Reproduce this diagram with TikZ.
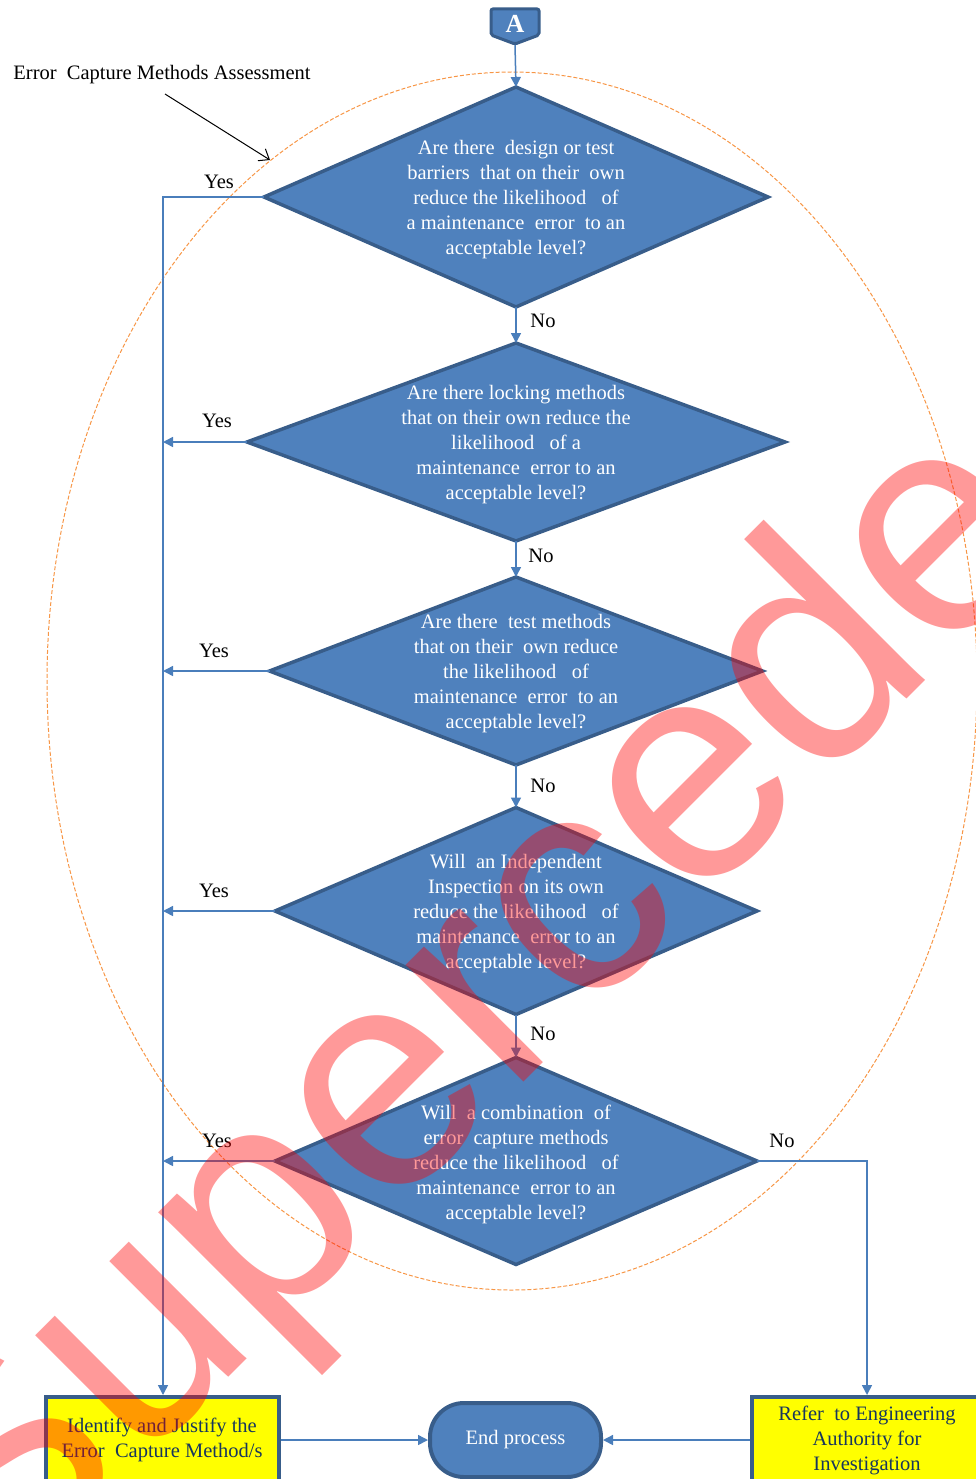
\documentclass[tikz,border=0pt]{standalone}
\usepackage{fontspec}
\setmainfont{Liberation Serif}
\newfontfamily\wmfont{Liberation Sans}
\usetikzlibrary{arrows.meta,shapes.geometric}
\definecolor{dfill}{HTML}{4F81BD}
\definecolor{dborder}{HTML}{385D8A}
\definecolor{lineblue}{HTML}{4A7EBB}
\definecolor{navytext}{HTML}{17365D}
\definecolor{ellorange}{HTML}{F79646}
\definecolor{boxyellow}{HTML}{FFFF00}
\begin{document}
\begin{tikzpicture}[x=1pt,y=-1pt,
  dia/.style={diamond, draw=dborder, fill=dfill, line width=3.5pt, inner sep=0pt, outer sep=0pt},
  dtext/.style={text=white, align=center, font=\fontsize{20.5}{25}\selectfont, inner sep=0pt, yshift=-3pt},
  lbl/.style={font=\fontsize{20.5}{25}\selectfont, inner sep=0pt},
  conn/.style={draw=lineblue, line width=1.5pt, -{Triangle[length=10pt,width=10pt]}},
  ybox/.style={draw=dborder, fill=boxyellow, line width=4pt, text=navytext, align=center,
    font=\fontsize{20.5}{25}\selectfont, inner sep=0pt},
]
\useasboundingbox (0,0) rectangle (976,1479);

% assessment ellipse
\draw[ellorange, line width=1pt, dash pattern=on 4pt off 2pt] (512,681) ellipse [x radius=465, y radius=609];

% off-page connector A
\draw[draw=dborder, fill=dfill, line width=3pt, rounded corners=2pt]
  (491,9) -- (539,9) -- (539,35) -- (515,44) -- (491,35) -- cycle;
\node[text=white, font=\fontsize{26}{26}\selectfont\bfseries, inner sep=0pt] (A) at (515,24) {A};
\coordinate (Abot) at (515,45);

% decisions
\node[dia, minimum width=504pt, minimum height=220pt] (d1) at (516,197) {};
\node[dtext] at (d1.center) {Are there\ \ design or test\\barriers\ \ that on their\ \ own\\reduce the likelihood\ \ \ of\\a maintenance\ \ error\ \ to an\\acceptable level?};
\node[dia, minimum width=538pt, minimum height=198pt] (d2) at (516,442) {};
\node[dtext] at (d2.center) {Are there locking methods\\that on their own reduce the\\likelihood\ \ \ of a\\maintenance\ \ error to an\\acceptable level?};
\node[dia, minimum width=493pt, minimum height=188pt] (d3) at (516,671) {};
\node[dtext] at (d3.center) {Are there\ \ test methods\\that on their\ \ own reduce\\the likelihood\ \ \ of\\maintenance\ \ error\ \ to an\\acceptable level?};
\node[dia, minimum width=482pt, minimum height=207pt] (d4) at (516,911) {};
\node[dtext] at (d4.center) {Will\ \ an Independent\\Inspection on its own\\reduce the likelihood\ \ \ of\\maintenance\ \ error to an\\acceptable level?};
\node[dia, minimum width=482pt, minimum height=207pt] (d5) at (516,1161) {};
\node[dtext] at (d5.center) {Will\ \ a combination\ \ of\\error\ \ capture methods\\reduce the likelihood\ \ \ of\\maintenance\ \ error to an\\acceptable level?};

% terminal boxes
\node[ybox, minimum width=233pt, minimum height=86pt] (lbox) at (162,1440) {Identify and Justify the\\Error\ \ Capture Method/s};
\node[ybox, minimum width=230pt, minimum height=86pt] (rbox) at (867,1440) {Refer\ \ to Engineering\\Authority for\\Investigation};
\node[draw=dborder, fill=dfill, line width=4pt, rounded corners=34pt, minimum width=171pt, minimum height=74pt,
  text=white, font=\fontsize{20.5}{25}\selectfont, inner sep=0pt] (endp) at (515.5,1440) {End process};

% annotation
\node[lbl, anchor=center] (ecm) at (162,75) {Error\ \ Capture Methods Assessment};
\coordinate (ecmA) at (165,94);
\coordinate (ecmB) at (270,160);
\draw[line width=1pt, -{Straight Barb[length=9pt,width=14pt]}] (ecmA) -- (ecmB);

% connectors
\coordinate (corner) at (163,197);
\draw[conn] (Abot) -- (d1.north);
\draw[conn] (d1.south) -- (d2.north);
\draw[conn] (d2.south) -- (d3.north);
\draw[conn] (d3.south) -- (d4.north);
\draw[conn] (d4.south) -- (d5.north);
\draw[conn] (d1.west) -- (corner) -- (corner |- lbox.north);
\draw[conn] (d2.west) -- (d2.west -| corner);
\draw[conn] (d3.west) -- (d3.west -| corner);
\draw[conn] (d4.west) -- (d4.west -| corner);
\draw[conn] (d5.west) -- (d5.west -| corner);
\coordinate (rturn) at (d5.east -| rbox.north);
\draw[conn] (d5.east) -- (rturn) -- (rbox.north);
\draw[conn] (lbox.east) -- (endp.west);
\draw[conn] (rbox.west) -- (endp.east);

% labels
\node[lbl] (y1) at (219,182) {Yes};
\node[lbl] (y2) at (217,421) {Yes};
\node[lbl] (y3) at (214,651) {Yes};
\node[lbl] (y4) at (214,891) {Yes};
\node[lbl] (y5) at (217,1141) {Yes};
\node[lbl] (n1) at (543,321) {No};
\node[lbl] (n2) at (541,556) {No};
\node[lbl] (n3) at (543,786) {No};
\node[lbl] (n4) at (543,1034) {No};
\node[lbl] (n5) at (782,1141) {No};

% watermark
\node[rotate=45, anchor=base west, inner sep=0pt, text=red, text opacity=0.4,
  font=\wmfont\fontsize{314}{314}\selectfont] (wm) at (-10,1616) {Superceded};
\end{tikzpicture}
\end{document}
